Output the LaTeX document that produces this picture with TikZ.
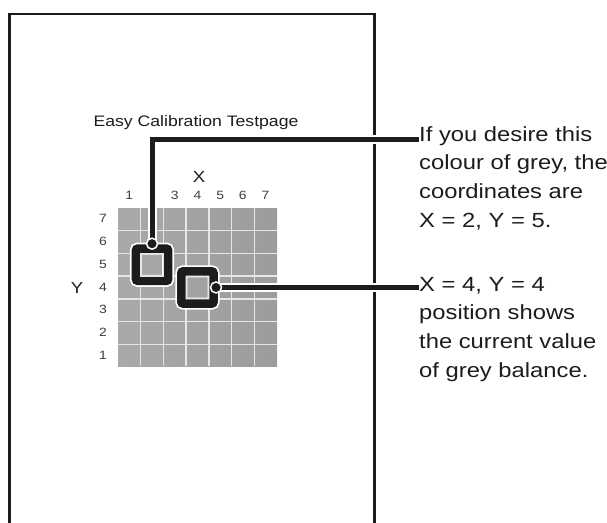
\documentclass[tikz,border=0pt]{standalone}
\usepackage{fontspec}
\setmainfont{Liberation Sans}
\newfontfamily\widesans[FakeStretch=1.16]{Liberation Sans}
\definecolor{ink}{HTML}{1C1C1C}
\definecolor{cellL}{HTML}{A9A9A9}
\definecolor{cellR}{HTML}{9C9C9C}
\definecolor{gridline}{HTML}{E6E6E6}
\begin{document}
\begin{tikzpicture}[x=1pt,y=-1pt,
  pageline/.style={draw=ink, line width=2.5pt},
  gridrule/.style={draw=gridline, line width=1.4pt},
  cellmark/.style={inner sep=0pt, minimum size=22.7pt, draw=none},
  framehalo/.style={draw=white, line width=12pt, rounded corners=2pt},
  frameline/.style={draw=ink, line width=8.5pt, rounded corners=2pt},
  innerrule/.style={draw=gridline, line width=1.4pt},
  leaderhalo/.style={draw=white, line width=9pt, miter limit=10},
  leader/.style={draw=ink, line width=5pt, miter limit=10},
  dotmark/.style={circle, fill=ink, draw=white, line width=1.5pt, inner sep=0pt, minimum size=11pt},
  titletext/.style={font=\widesans\fontsize{15.2}{18}\selectfont, inner sep=0pt, text=ink},
  axistext/.style={font=\widesans\fontsize{16}{18}\selectfont, inner sep=0pt, text=ink},
  digit/.style={font=\widesans\fontsize{12}{14}\selectfont, inner sep=0pt, text=ink!85},
  note/.style={font=\widesans\fontsize{20.5}{28.7}\selectfont, inner sep=0pt, align=left, text=ink}
]
\useasboundingbox (0,0) rectangle (607,522);

% page outline
\draw[pageline] (9.5,523) -- (9.5,14) -- (374.5,14) -- (374.5,523);

% title
\node[titletext, anchor=base] (title) at (196,126) {Easy Calibration Testpage};

% grid
\shade[left color=cellL, right color=cellR] (118,208) rectangle (277,366);
\foreach \k in {1,...,6}{
  \pgfmathsetmacro{\gx}{118+22.7*\k}
  \pgfmathsetmacro{\gy}{208+22.7*\k}
  \draw[gridrule] (\gx,208) -- (\gx,366);
  \draw[gridrule] (118,\gy) -- (277,\gy);
}

% axis labels
\node[axistext, anchor=base] (xlabel) at (199,182.7) {X};
\node[axistext, anchor=base] (ylabel) at (77,293) {Y};
\foreach \i in {1,3,4,5,6,7}{
  \pgfmathsetmacro{\cx}{118+22.7*(\i-0.5)}
  \node[digit, anchor=base] (col\i) at (\cx,199.3) {\i};
}
\foreach \j in {1,...,7}{
  \pgfmathsetmacro{\ry}{208+22.7*(7-\j+0.5)+3.6}
  \node[digit, anchor=base] (row\j) at (103,\ry) {\j};
}

% selected cells
\node[cellmark] (sel1) at (152.05,264.75) {};
\node[cellmark] (sel2) at (197.45,287.45) {};
\foreach \s in {sel1,sel2}{
  \draw[framehalo] ([shift={(-4.6,-4.6)}]\s.north west) rectangle ([shift={(4.6,4.6)}]\s.south east);
}
\foreach \s in {sel1,sel2}{
  \draw[frameline] ([shift={(-4.6,-4.6)}]\s.north west) rectangle ([shift={(4.6,4.6)}]\s.south east);
  \draw[innerrule] ([shift={(0.3,0.3)}]\s.north west) rectangle ([shift={(-0.3,-0.3)}]\s.south east);
}

% notes (base anchor = baseline of last line)
\node[note, anchor=base west] (note1) at (419,227.1) {If you desire this\\colour of grey, the\\coordinates are\\X = 2, Y = 5.};
\node[note, anchor=base west] (note2) at (419,377.1) {X = 4, Y = 4\\position shows\\the current value\\of grey balance.};

% dots
\coordinate (dot1) at ([yshift=9.5pt]sel1.north);
\coordinate (dot2) at ([xshift=7pt]sel2.east);
\coordinate (end1) at ([yshift=87.6pt]note1.base west);

% leaders
\draw[leaderhalo] (dot1) |- (end1);
\draw[leaderhalo] (dot2) -- (dot2 -| note2.west);
\draw[leader] (dot1) |- (end1);
\draw[leader] (dot2) -- (dot2 -| note2.west);
\node[dotmark] (d1) at (dot1) {};
\node[dotmark] (d2) at (dot2) {};
\end{tikzpicture}
\end{document}
